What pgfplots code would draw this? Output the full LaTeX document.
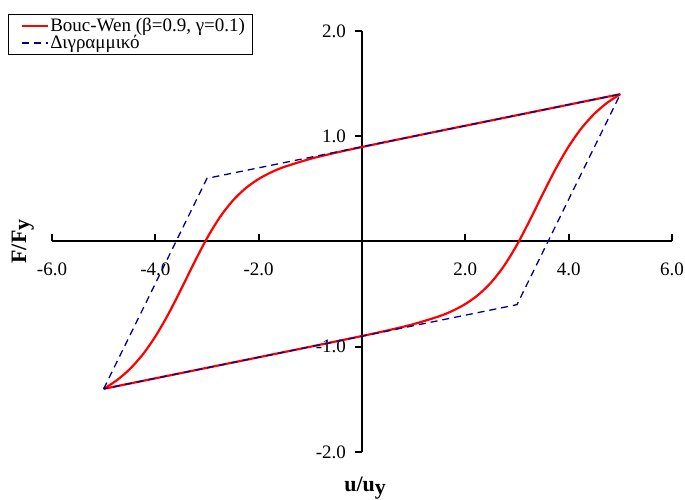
\documentclass[border=0pt]{standalone}
\usepackage{fontspec}
\setmainfont{Liberation Serif}
\usepackage{pgfplots}
\pgfplotsset{compat=1.18}
\definecolor{bwred}{RGB}{255,0,0}
\definecolor{bilin}{RGB}{0,0,140}
\begin{document}
\fontsize{19}{22}\selectfont
\begin{tikzpicture}
\begin{axis}[
  scale only axis, width=620pt, height=421pt,
  xmin=-6, xmax=6, ymin=-2, ymax=2,
  axis lines=middle,
  axis line style={-, line width=2pt, black},
  xtick={-6,-4,-2,2,4,6},
  xticklabels={-6.0,-4.0,-2.0,2.0,4.0,6.0},
  ytick={-2,-1,1,2},
  yticklabels={-2.0,-1.0,1.0,2.0},
  major tick length=7pt,
  tick style={black, line width=2pt},
  every major x tick/.append style={yshift=3.5pt},
  every major y tick/.append style={xshift=-3.5pt},
  xticklabel style={anchor=north, yshift=-11pt, font=\fontsize{19}{22}\selectfont},
  yticklabel style={anchor=east, xshift=-6pt, font=\fontsize{19}{22}\selectfont},
  xlabel={\textbf{u/u\raisebox{-3pt}{y}}},
  ylabel={\textbf{F/F\raisebox{-3pt}{y}}},
  xlabel style={at={(axis description cs:0.505,-0.085)}, anchor=center, font=\fontsize{22}{26}\selectfont},
  ylabel style={at={(axis description cs:-0.047,0.5)}, anchor=center, rotate=90, font=\fontsize{22}{26}\selectfont},
  legend style={at={(axis description cs:-0.071,1.040)}, anchor=north west,
    draw=black, line width=1.2pt, font=\fontsize{19}{21}\selectfont,
    inner xsep=6pt, inner ysep=1pt, row sep=-3pt,
    nodes={inner xsep=1.5pt}},
  legend cell align=left,
  legend image code/.code={\draw[#1] (6pt,0pt) -- (32pt,0pt); \path (0pt,0pt);},
  clip=false,
]
% Bouc-Wen loop: loading branch
\addplot[bwred, line width=2.2pt, smooth, legend image post style={line width=2.2pt}] coordinates {
  (-5,-1.4) (-4.75,-1.3199) (-4.5,-1.2148) (-4.25,-1.0776) (-4,-0.9030)
  (-3.75,-0.6915) (-3.5,-0.4523) (-3.386,-0.3386) (-3.25,-0.2034) (-3,0.0311)
  (-2.75,0.2309) (-2.5,0.3885) (-2.25,0.5068) (-2,0.5941) (-1.75,0.6592)
  (-1.5,0.7095) (-1,0.7849) (-0.5,0.8444) (0,0.8979) (1,0.9997)
  (2,1.1) (3,1.2) (4,1.3) (5,1.4)
};
\addlegendentry{Bouc-Wen (β=0.9, γ=0.1)}
% Bouc-Wen loop: unloading branch
\addplot[bwred, line width=2.2pt, smooth, forget plot] coordinates {
  (5,1.4) (4.75,1.3199) (4.5,1.2148) (4.25,1.0776) (4,0.9030)
  (3.75,0.6915) (3.5,0.4523) (3.386,0.3386) (3.25,0.2034) (3,-0.0311)
  (2.75,-0.2309) (2.5,-0.3885) (2.25,-0.5068) (2,-0.5941) (1.75,-0.6592)
  (1.5,-0.7095) (1,-0.7849) (0.5,-0.8444) (0,-0.8979) (-1,-0.9997)
  (-2,-1.1) (-3,-1.2) (-4,-1.3) (-5,-1.4)
};
% bilinear model
\addplot[bilin, line width=1.3pt, dash pattern=on 7pt off 5pt, legend image post style={line width=1.3pt}] coordinates {
  (-5,-1.4) (-3,0.6) (5,1.4) (3,-0.6) (-5,-1.4)
};
\addlegendentry{Διγραμμικό}
\end{axis}
\pgfresetboundingbox
\path ([shift={(-52pt,-48pt)}]current axis.south west) rectangle ([shift={(13pt,31pt)}]current axis.north east);
\end{tikzpicture}
\end{document}
